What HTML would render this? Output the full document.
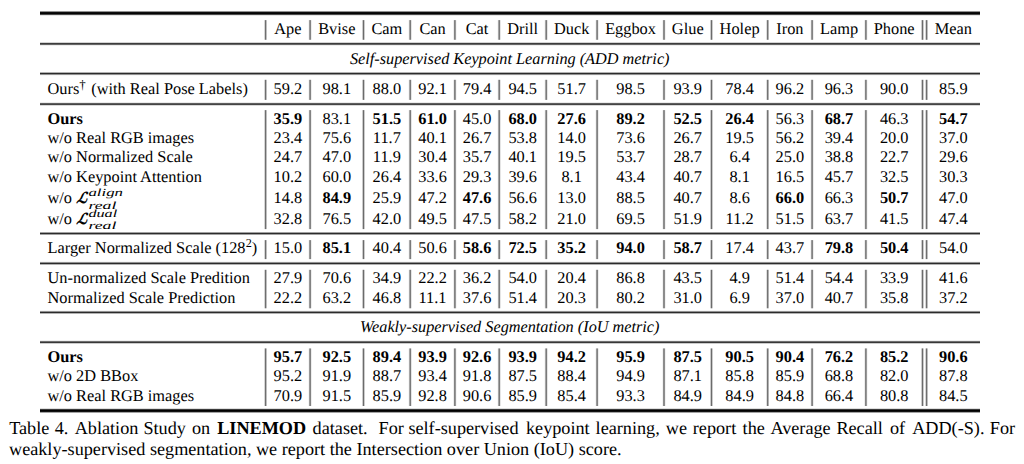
<!DOCTYPE html>
<html><head><meta charset="utf-8"><title>Table 4. Ablation Study on LINEMOD</title>
<style>
html,body{margin:0;padding:0;background:#fff;}
body{width:1024px;height:464px;overflow:hidden;position:relative;}
svg{position:absolute;left:0;top:0;}
svg text{text-rendering:geometricPrecision;font-family:"Liberation Serif","Times New Roman",serif;fill:#000;}
</style></head><body>
<svg width="1024" height="464" viewBox="0 0 1024 464">
<g fill="#000" shape-rendering="crispEdges">
<rect x="39.5" y="11" width="940.5" height="1" fill-opacity="0.43"/>
<rect x="39.5" y="12" width="940.5" height="1" fill-opacity="0.95"/>
<rect x="39.5" y="13" width="940.5" height="1" fill-opacity="0.99"/>
<rect x="39.5" y="14" width="940.5" height="1" fill-opacity="0.71"/>
<rect x="39.5" y="15" width="940.5" height="1" fill-opacity="0.1"/>
<rect x="39.5" y="42" width="940.5" height="1" fill-opacity="0.17"/>
<rect x="39.5" y="43" width="940.5" height="1" fill-opacity="0.76"/>
<rect x="39.5" y="44" width="940.5" height="1" fill-opacity="0.6"/>
<rect x="39.5" y="45" width="940.5" height="1" fill-opacity="0.07"/>
<rect x="39.5" y="72" width="940.5" height="1" fill-opacity="0.3"/>
<rect x="39.5" y="73" width="940.5" height="1" fill-opacity="0.83"/>
<rect x="39.5" y="74" width="940.5" height="1" fill-opacity="0.43"/>
<rect x="39.5" y="75" width="940.5" height="1" fill-opacity="0.03"/>
<rect x="39.5" y="102" width="940.5" height="1" fill-opacity="0.08"/>
<rect x="39.5" y="103" width="940.5" height="1" fill-opacity="0.63"/>
<rect x="39.5" y="104" width="940.5" height="1" fill-opacity="0.73"/>
<rect x="39.5" y="105" width="940.5" height="1" fill-opacity="0.15"/>
<rect x="39.5" y="232" width="940.5" height="1" fill-opacity="0.37"/>
<rect x="39.5" y="233" width="940.5" height="1" fill-opacity="0.83"/>
<rect x="39.5" y="234" width="940.5" height="1" fill-opacity="0.37"/>
<rect x="39.5" y="261" width="940.5" height="1" fill-opacity="0.03"/>
<rect x="39.5" y="262" width="940.5" height="1" fill-opacity="0.43"/>
<rect x="39.5" y="263" width="940.5" height="1" fill-opacity="0.83"/>
<rect x="39.5" y="264" width="940.5" height="1" fill-opacity="0.3"/>
<rect x="39.5" y="310" width="940.5" height="1" fill-opacity="0.03"/>
<rect x="39.5" y="311" width="940.5" height="1" fill-opacity="0.43"/>
<rect x="39.5" y="312" width="940.5" height="1" fill-opacity="0.83"/>
<rect x="39.5" y="313" width="940.5" height="1" fill-opacity="0.3"/>
<rect x="39.5" y="340" width="940.5" height="1" fill-opacity="0.06"/>
<rect x="39.5" y="341" width="940.5" height="1" fill-opacity="0.56"/>
<rect x="39.5" y="342" width="940.5" height="1" fill-opacity="0.78"/>
<rect x="39.5" y="343" width="940.5" height="1" fill-opacity="0.2"/>
<rect x="39.5" y="408" width="940.5" height="1" fill-opacity="0.13"/>
<rect x="39.5" y="409" width="940.5" height="1" fill-opacity="0.77"/>
<rect x="39.5" y="410" width="940.5" height="1" fill-opacity="1.0"/>
<rect x="39.5" y="411" width="940.5" height="1" fill-opacity="0.93"/>
<rect x="39.5" y="412" width="940.5" height="1" fill-opacity="0.36"/>
</g><g fill="#000">
<rect x="264" y="20.1" width="1" height="19.7" fill-opacity="0.16"/>
<rect x="265" y="20.1" width="1" height="19.7" fill-opacity="0.57"/>
<rect x="266" y="20.1" width="1" height="19.7" fill-opacity="0.25"/>
<rect x="308" y="20.1" width="1" height="19.7" fill-opacity="0.04"/>
<rect x="309" y="20.1" width="1" height="19.7" fill-opacity="0.4"/>
<rect x="310" y="20.1" width="1" height="19.7" fill-opacity="0.49"/>
<rect x="311" y="20.1" width="1" height="19.7" fill-opacity="0.07"/>
<rect x="362" y="20.1" width="1" height="19.7" fill-opacity="0.2"/>
<rect x="363" y="20.1" width="1" height="19.7" fill-opacity="0.58"/>
<rect x="364" y="20.1" width="1" height="19.7" fill-opacity="0.2"/>
<rect x="408" y="20.1" width="1" height="19.7" fill-opacity="0.03"/>
<rect x="409" y="20.1" width="1" height="19.7" fill-opacity="0.35"/>
<rect x="410" y="20.1" width="1" height="19.7" fill-opacity="0.52"/>
<rect x="411" y="20.1" width="1" height="19.7" fill-opacity="0.1"/>
<rect x="453" y="20.1" width="1" height="19.7" fill-opacity="0.07"/>
<rect x="454" y="20.1" width="1" height="19.7" fill-opacity="0.49"/>
<rect x="455" y="20.1" width="1" height="19.7" fill-opacity="0.4"/>
<rect x="456" y="20.1" width="1" height="19.7" fill-opacity="0.04"/>
<rect x="497" y="20.1" width="1" height="19.7" fill-opacity="0.03"/>
<rect x="498" y="20.1" width="1" height="19.7" fill-opacity="0.35"/>
<rect x="499" y="20.1" width="1" height="19.7" fill-opacity="0.52"/>
<rect x="500" y="20.1" width="1" height="19.7" fill-opacity="0.1"/>
<rect x="544" y="20.1" width="1" height="19.7" fill-opacity="0.03"/>
<rect x="545" y="20.1" width="1" height="19.7" fill-opacity="0.35"/>
<rect x="546" y="20.1" width="1" height="19.7" fill-opacity="0.52"/>
<rect x="547" y="20.1" width="1" height="19.7" fill-opacity="0.1"/>
<rect x="595" y="20.1" width="1" height="19.7" fill-opacity="0.04"/>
<rect x="596" y="20.1" width="1" height="19.7" fill-opacity="0.4"/>
<rect x="597" y="20.1" width="1" height="19.7" fill-opacity="0.49"/>
<rect x="598" y="20.1" width="1" height="19.7" fill-opacity="0.07"/>
<rect x="662" y="20.1" width="1" height="19.7" fill-opacity="0.05"/>
<rect x="663" y="20.1" width="1" height="19.7" fill-opacity="0.45"/>
<rect x="664" y="20.1" width="1" height="19.7" fill-opacity="0.45"/>
<rect x="665" y="20.1" width="1" height="19.7" fill-opacity="0.05"/>
<rect x="710" y="20.1" width="1" height="19.7" fill-opacity="0.2"/>
<rect x="711" y="20.1" width="1" height="19.7" fill-opacity="0.58"/>
<rect x="712" y="20.1" width="1" height="19.7" fill-opacity="0.2"/>
<rect x="766" y="20.1" width="1" height="19.7" fill-opacity="0.13"/>
<rect x="767" y="20.1" width="1" height="19.7" fill-opacity="0.55"/>
<rect x="768" y="20.1" width="1" height="19.7" fill-opacity="0.3"/>
<rect x="810" y="20.1" width="1" height="19.7" fill-opacity="0.04"/>
<rect x="811" y="20.1" width="1" height="19.7" fill-opacity="0.4"/>
<rect x="812" y="20.1" width="1" height="19.7" fill-opacity="0.49"/>
<rect x="813" y="20.1" width="1" height="19.7" fill-opacity="0.07"/>
<rect x="864" y="20.1" width="1" height="19.7" fill-opacity="0.07"/>
<rect x="865" y="20.1" width="1" height="19.7" fill-opacity="0.49"/>
<rect x="866" y="20.1" width="1" height="19.7" fill-opacity="0.4"/>
<rect x="867" y="20.1" width="1" height="19.7" fill-opacity="0.04"/>
<rect x="921" y="20.1" width="1" height="19.7" fill-opacity="0.2"/>
<rect x="922" y="20.1" width="1" height="19.7" fill-opacity="0.58"/>
<rect x="923" y="20.1" width="1" height="19.7" fill-opacity="0.2"/>
<rect x="925" y="20.1" width="1" height="19.7" fill-opacity="0.16"/>
<rect x="926" y="20.1" width="1" height="19.7" fill-opacity="0.57"/>
<rect x="927" y="20.1" width="1" height="19.7" fill-opacity="0.25"/>
<rect x="264" y="79.8" width="1" height="20.1" fill-opacity="0.16"/>
<rect x="265" y="79.8" width="1" height="20.1" fill-opacity="0.57"/>
<rect x="266" y="79.8" width="1" height="20.1" fill-opacity="0.25"/>
<rect x="308" y="79.8" width="1" height="20.1" fill-opacity="0.04"/>
<rect x="309" y="79.8" width="1" height="20.1" fill-opacity="0.4"/>
<rect x="310" y="79.8" width="1" height="20.1" fill-opacity="0.49"/>
<rect x="311" y="79.8" width="1" height="20.1" fill-opacity="0.07"/>
<rect x="362" y="79.8" width="1" height="20.1" fill-opacity="0.2"/>
<rect x="363" y="79.8" width="1" height="20.1" fill-opacity="0.58"/>
<rect x="364" y="79.8" width="1" height="20.1" fill-opacity="0.2"/>
<rect x="408" y="79.8" width="1" height="20.1" fill-opacity="0.03"/>
<rect x="409" y="79.8" width="1" height="20.1" fill-opacity="0.35"/>
<rect x="410" y="79.8" width="1" height="20.1" fill-opacity="0.52"/>
<rect x="411" y="79.8" width="1" height="20.1" fill-opacity="0.1"/>
<rect x="453" y="79.8" width="1" height="20.1" fill-opacity="0.07"/>
<rect x="454" y="79.8" width="1" height="20.1" fill-opacity="0.49"/>
<rect x="455" y="79.8" width="1" height="20.1" fill-opacity="0.4"/>
<rect x="456" y="79.8" width="1" height="20.1" fill-opacity="0.04"/>
<rect x="497" y="79.8" width="1" height="20.1" fill-opacity="0.03"/>
<rect x="498" y="79.8" width="1" height="20.1" fill-opacity="0.35"/>
<rect x="499" y="79.8" width="1" height="20.1" fill-opacity="0.52"/>
<rect x="500" y="79.8" width="1" height="20.1" fill-opacity="0.1"/>
<rect x="544" y="79.8" width="1" height="20.1" fill-opacity="0.03"/>
<rect x="545" y="79.8" width="1" height="20.1" fill-opacity="0.35"/>
<rect x="546" y="79.8" width="1" height="20.1" fill-opacity="0.52"/>
<rect x="547" y="79.8" width="1" height="20.1" fill-opacity="0.1"/>
<rect x="595" y="79.8" width="1" height="20.1" fill-opacity="0.04"/>
<rect x="596" y="79.8" width="1" height="20.1" fill-opacity="0.4"/>
<rect x="597" y="79.8" width="1" height="20.1" fill-opacity="0.49"/>
<rect x="598" y="79.8" width="1" height="20.1" fill-opacity="0.07"/>
<rect x="662" y="79.8" width="1" height="20.1" fill-opacity="0.05"/>
<rect x="663" y="79.8" width="1" height="20.1" fill-opacity="0.45"/>
<rect x="664" y="79.8" width="1" height="20.1" fill-opacity="0.45"/>
<rect x="665" y="79.8" width="1" height="20.1" fill-opacity="0.05"/>
<rect x="710" y="79.8" width="1" height="20.1" fill-opacity="0.2"/>
<rect x="711" y="79.8" width="1" height="20.1" fill-opacity="0.58"/>
<rect x="712" y="79.8" width="1" height="20.1" fill-opacity="0.2"/>
<rect x="766" y="79.8" width="1" height="20.1" fill-opacity="0.13"/>
<rect x="767" y="79.8" width="1" height="20.1" fill-opacity="0.55"/>
<rect x="768" y="79.8" width="1" height="20.1" fill-opacity="0.3"/>
<rect x="810" y="79.8" width="1" height="20.1" fill-opacity="0.04"/>
<rect x="811" y="79.8" width="1" height="20.1" fill-opacity="0.4"/>
<rect x="812" y="79.8" width="1" height="20.1" fill-opacity="0.49"/>
<rect x="813" y="79.8" width="1" height="20.1" fill-opacity="0.07"/>
<rect x="864" y="79.8" width="1" height="20.1" fill-opacity="0.07"/>
<rect x="865" y="79.8" width="1" height="20.1" fill-opacity="0.49"/>
<rect x="866" y="79.8" width="1" height="20.1" fill-opacity="0.4"/>
<rect x="867" y="79.8" width="1" height="20.1" fill-opacity="0.04"/>
<rect x="921" y="79.8" width="1" height="20.1" fill-opacity="0.2"/>
<rect x="922" y="79.8" width="1" height="20.1" fill-opacity="0.58"/>
<rect x="923" y="79.8" width="1" height="20.1" fill-opacity="0.2"/>
<rect x="925" y="79.8" width="1" height="20.1" fill-opacity="0.16"/>
<rect x="926" y="79.8" width="1" height="20.1" fill-opacity="0.57"/>
<rect x="927" y="79.8" width="1" height="20.1" fill-opacity="0.25"/>
<rect x="264" y="110.1" width="1" height="119.0" fill-opacity="0.16"/>
<rect x="265" y="110.1" width="1" height="119.0" fill-opacity="0.57"/>
<rect x="266" y="110.1" width="1" height="119.0" fill-opacity="0.25"/>
<rect x="308" y="110.1" width="1" height="119.0" fill-opacity="0.04"/>
<rect x="309" y="110.1" width="1" height="119.0" fill-opacity="0.4"/>
<rect x="310" y="110.1" width="1" height="119.0" fill-opacity="0.49"/>
<rect x="311" y="110.1" width="1" height="119.0" fill-opacity="0.07"/>
<rect x="362" y="110.1" width="1" height="119.0" fill-opacity="0.2"/>
<rect x="363" y="110.1" width="1" height="119.0" fill-opacity="0.58"/>
<rect x="364" y="110.1" width="1" height="119.0" fill-opacity="0.2"/>
<rect x="408" y="110.1" width="1" height="119.0" fill-opacity="0.03"/>
<rect x="409" y="110.1" width="1" height="119.0" fill-opacity="0.35"/>
<rect x="410" y="110.1" width="1" height="119.0" fill-opacity="0.52"/>
<rect x="411" y="110.1" width="1" height="119.0" fill-opacity="0.1"/>
<rect x="453" y="110.1" width="1" height="119.0" fill-opacity="0.07"/>
<rect x="454" y="110.1" width="1" height="119.0" fill-opacity="0.49"/>
<rect x="455" y="110.1" width="1" height="119.0" fill-opacity="0.4"/>
<rect x="456" y="110.1" width="1" height="119.0" fill-opacity="0.04"/>
<rect x="497" y="110.1" width="1" height="119.0" fill-opacity="0.03"/>
<rect x="498" y="110.1" width="1" height="119.0" fill-opacity="0.35"/>
<rect x="499" y="110.1" width="1" height="119.0" fill-opacity="0.52"/>
<rect x="500" y="110.1" width="1" height="119.0" fill-opacity="0.1"/>
<rect x="544" y="110.1" width="1" height="119.0" fill-opacity="0.03"/>
<rect x="545" y="110.1" width="1" height="119.0" fill-opacity="0.35"/>
<rect x="546" y="110.1" width="1" height="119.0" fill-opacity="0.52"/>
<rect x="547" y="110.1" width="1" height="119.0" fill-opacity="0.1"/>
<rect x="595" y="110.1" width="1" height="119.0" fill-opacity="0.04"/>
<rect x="596" y="110.1" width="1" height="119.0" fill-opacity="0.4"/>
<rect x="597" y="110.1" width="1" height="119.0" fill-opacity="0.49"/>
<rect x="598" y="110.1" width="1" height="119.0" fill-opacity="0.07"/>
<rect x="662" y="110.1" width="1" height="119.0" fill-opacity="0.05"/>
<rect x="663" y="110.1" width="1" height="119.0" fill-opacity="0.45"/>
<rect x="664" y="110.1" width="1" height="119.0" fill-opacity="0.45"/>
<rect x="665" y="110.1" width="1" height="119.0" fill-opacity="0.05"/>
<rect x="710" y="110.1" width="1" height="119.0" fill-opacity="0.2"/>
<rect x="711" y="110.1" width="1" height="119.0" fill-opacity="0.58"/>
<rect x="712" y="110.1" width="1" height="119.0" fill-opacity="0.2"/>
<rect x="766" y="110.1" width="1" height="119.0" fill-opacity="0.13"/>
<rect x="767" y="110.1" width="1" height="119.0" fill-opacity="0.55"/>
<rect x="768" y="110.1" width="1" height="119.0" fill-opacity="0.3"/>
<rect x="810" y="110.1" width="1" height="119.0" fill-opacity="0.04"/>
<rect x="811" y="110.1" width="1" height="119.0" fill-opacity="0.4"/>
<rect x="812" y="110.1" width="1" height="119.0" fill-opacity="0.49"/>
<rect x="813" y="110.1" width="1" height="119.0" fill-opacity="0.07"/>
<rect x="864" y="110.1" width="1" height="119.0" fill-opacity="0.07"/>
<rect x="865" y="110.1" width="1" height="119.0" fill-opacity="0.49"/>
<rect x="866" y="110.1" width="1" height="119.0" fill-opacity="0.4"/>
<rect x="867" y="110.1" width="1" height="119.0" fill-opacity="0.04"/>
<rect x="921" y="110.1" width="1" height="119.0" fill-opacity="0.2"/>
<rect x="922" y="110.1" width="1" height="119.0" fill-opacity="0.58"/>
<rect x="923" y="110.1" width="1" height="119.0" fill-opacity="0.2"/>
<rect x="925" y="110.1" width="1" height="119.0" fill-opacity="0.16"/>
<rect x="926" y="110.1" width="1" height="119.0" fill-opacity="0.57"/>
<rect x="927" y="110.1" width="1" height="119.0" fill-opacity="0.25"/>
<rect x="264" y="240.1" width="1" height="19.0" fill-opacity="0.16"/>
<rect x="265" y="240.1" width="1" height="19.0" fill-opacity="0.57"/>
<rect x="266" y="240.1" width="1" height="19.0" fill-opacity="0.25"/>
<rect x="308" y="240.1" width="1" height="19.0" fill-opacity="0.04"/>
<rect x="309" y="240.1" width="1" height="19.0" fill-opacity="0.4"/>
<rect x="310" y="240.1" width="1" height="19.0" fill-opacity="0.49"/>
<rect x="311" y="240.1" width="1" height="19.0" fill-opacity="0.07"/>
<rect x="362" y="240.1" width="1" height="19.0" fill-opacity="0.2"/>
<rect x="363" y="240.1" width="1" height="19.0" fill-opacity="0.58"/>
<rect x="364" y="240.1" width="1" height="19.0" fill-opacity="0.2"/>
<rect x="408" y="240.1" width="1" height="19.0" fill-opacity="0.03"/>
<rect x="409" y="240.1" width="1" height="19.0" fill-opacity="0.35"/>
<rect x="410" y="240.1" width="1" height="19.0" fill-opacity="0.52"/>
<rect x="411" y="240.1" width="1" height="19.0" fill-opacity="0.1"/>
<rect x="453" y="240.1" width="1" height="19.0" fill-opacity="0.07"/>
<rect x="454" y="240.1" width="1" height="19.0" fill-opacity="0.49"/>
<rect x="455" y="240.1" width="1" height="19.0" fill-opacity="0.4"/>
<rect x="456" y="240.1" width="1" height="19.0" fill-opacity="0.04"/>
<rect x="497" y="240.1" width="1" height="19.0" fill-opacity="0.03"/>
<rect x="498" y="240.1" width="1" height="19.0" fill-opacity="0.35"/>
<rect x="499" y="240.1" width="1" height="19.0" fill-opacity="0.52"/>
<rect x="500" y="240.1" width="1" height="19.0" fill-opacity="0.1"/>
<rect x="544" y="240.1" width="1" height="19.0" fill-opacity="0.03"/>
<rect x="545" y="240.1" width="1" height="19.0" fill-opacity="0.35"/>
<rect x="546" y="240.1" width="1" height="19.0" fill-opacity="0.52"/>
<rect x="547" y="240.1" width="1" height="19.0" fill-opacity="0.1"/>
<rect x="595" y="240.1" width="1" height="19.0" fill-opacity="0.04"/>
<rect x="596" y="240.1" width="1" height="19.0" fill-opacity="0.4"/>
<rect x="597" y="240.1" width="1" height="19.0" fill-opacity="0.49"/>
<rect x="598" y="240.1" width="1" height="19.0" fill-opacity="0.07"/>
<rect x="662" y="240.1" width="1" height="19.0" fill-opacity="0.05"/>
<rect x="663" y="240.1" width="1" height="19.0" fill-opacity="0.45"/>
<rect x="664" y="240.1" width="1" height="19.0" fill-opacity="0.45"/>
<rect x="665" y="240.1" width="1" height="19.0" fill-opacity="0.05"/>
<rect x="710" y="240.1" width="1" height="19.0" fill-opacity="0.2"/>
<rect x="711" y="240.1" width="1" height="19.0" fill-opacity="0.58"/>
<rect x="712" y="240.1" width="1" height="19.0" fill-opacity="0.2"/>
<rect x="766" y="240.1" width="1" height="19.0" fill-opacity="0.13"/>
<rect x="767" y="240.1" width="1" height="19.0" fill-opacity="0.55"/>
<rect x="768" y="240.1" width="1" height="19.0" fill-opacity="0.3"/>
<rect x="810" y="240.1" width="1" height="19.0" fill-opacity="0.04"/>
<rect x="811" y="240.1" width="1" height="19.0" fill-opacity="0.4"/>
<rect x="812" y="240.1" width="1" height="19.0" fill-opacity="0.49"/>
<rect x="813" y="240.1" width="1" height="19.0" fill-opacity="0.07"/>
<rect x="864" y="240.1" width="1" height="19.0" fill-opacity="0.07"/>
<rect x="865" y="240.1" width="1" height="19.0" fill-opacity="0.49"/>
<rect x="866" y="240.1" width="1" height="19.0" fill-opacity="0.4"/>
<rect x="867" y="240.1" width="1" height="19.0" fill-opacity="0.04"/>
<rect x="921" y="240.1" width="1" height="19.0" fill-opacity="0.2"/>
<rect x="922" y="240.1" width="1" height="19.0" fill-opacity="0.58"/>
<rect x="923" y="240.1" width="1" height="19.0" fill-opacity="0.2"/>
<rect x="925" y="240.1" width="1" height="19.0" fill-opacity="0.16"/>
<rect x="926" y="240.1" width="1" height="19.0" fill-opacity="0.57"/>
<rect x="927" y="240.1" width="1" height="19.0" fill-opacity="0.25"/>
<rect x="264" y="269.8" width="1" height="38.5" fill-opacity="0.16"/>
<rect x="265" y="269.8" width="1" height="38.5" fill-opacity="0.57"/>
<rect x="266" y="269.8" width="1" height="38.5" fill-opacity="0.25"/>
<rect x="308" y="269.8" width="1" height="38.5" fill-opacity="0.04"/>
<rect x="309" y="269.8" width="1" height="38.5" fill-opacity="0.4"/>
<rect x="310" y="269.8" width="1" height="38.5" fill-opacity="0.49"/>
<rect x="311" y="269.8" width="1" height="38.5" fill-opacity="0.07"/>
<rect x="362" y="269.8" width="1" height="38.5" fill-opacity="0.2"/>
<rect x="363" y="269.8" width="1" height="38.5" fill-opacity="0.58"/>
<rect x="364" y="269.8" width="1" height="38.5" fill-opacity="0.2"/>
<rect x="408" y="269.8" width="1" height="38.5" fill-opacity="0.03"/>
<rect x="409" y="269.8" width="1" height="38.5" fill-opacity="0.35"/>
<rect x="410" y="269.8" width="1" height="38.5" fill-opacity="0.52"/>
<rect x="411" y="269.8" width="1" height="38.5" fill-opacity="0.1"/>
<rect x="453" y="269.8" width="1" height="38.5" fill-opacity="0.07"/>
<rect x="454" y="269.8" width="1" height="38.5" fill-opacity="0.49"/>
<rect x="455" y="269.8" width="1" height="38.5" fill-opacity="0.4"/>
<rect x="456" y="269.8" width="1" height="38.5" fill-opacity="0.04"/>
<rect x="497" y="269.8" width="1" height="38.5" fill-opacity="0.03"/>
<rect x="498" y="269.8" width="1" height="38.5" fill-opacity="0.35"/>
<rect x="499" y="269.8" width="1" height="38.5" fill-opacity="0.52"/>
<rect x="500" y="269.8" width="1" height="38.5" fill-opacity="0.1"/>
<rect x="544" y="269.8" width="1" height="38.5" fill-opacity="0.03"/>
<rect x="545" y="269.8" width="1" height="38.5" fill-opacity="0.35"/>
<rect x="546" y="269.8" width="1" height="38.5" fill-opacity="0.52"/>
<rect x="547" y="269.8" width="1" height="38.5" fill-opacity="0.1"/>
<rect x="595" y="269.8" width="1" height="38.5" fill-opacity="0.04"/>
<rect x="596" y="269.8" width="1" height="38.5" fill-opacity="0.4"/>
<rect x="597" y="269.8" width="1" height="38.5" fill-opacity="0.49"/>
<rect x="598" y="269.8" width="1" height="38.5" fill-opacity="0.07"/>
<rect x="662" y="269.8" width="1" height="38.5" fill-opacity="0.05"/>
<rect x="663" y="269.8" width="1" height="38.5" fill-opacity="0.45"/>
<rect x="664" y="269.8" width="1" height="38.5" fill-opacity="0.45"/>
<rect x="665" y="269.8" width="1" height="38.5" fill-opacity="0.05"/>
<rect x="710" y="269.8" width="1" height="38.5" fill-opacity="0.2"/>
<rect x="711" y="269.8" width="1" height="38.5" fill-opacity="0.58"/>
<rect x="712" y="269.8" width="1" height="38.5" fill-opacity="0.2"/>
<rect x="766" y="269.8" width="1" height="38.5" fill-opacity="0.13"/>
<rect x="767" y="269.8" width="1" height="38.5" fill-opacity="0.55"/>
<rect x="768" y="269.8" width="1" height="38.5" fill-opacity="0.3"/>
<rect x="810" y="269.8" width="1" height="38.5" fill-opacity="0.04"/>
<rect x="811" y="269.8" width="1" height="38.5" fill-opacity="0.4"/>
<rect x="812" y="269.8" width="1" height="38.5" fill-opacity="0.49"/>
<rect x="813" y="269.8" width="1" height="38.5" fill-opacity="0.07"/>
<rect x="864" y="269.8" width="1" height="38.5" fill-opacity="0.07"/>
<rect x="865" y="269.8" width="1" height="38.5" fill-opacity="0.49"/>
<rect x="866" y="269.8" width="1" height="38.5" fill-opacity="0.4"/>
<rect x="867" y="269.8" width="1" height="38.5" fill-opacity="0.04"/>
<rect x="921" y="269.8" width="1" height="38.5" fill-opacity="0.2"/>
<rect x="922" y="269.8" width="1" height="38.5" fill-opacity="0.58"/>
<rect x="923" y="269.8" width="1" height="38.5" fill-opacity="0.2"/>
<rect x="925" y="269.8" width="1" height="38.5" fill-opacity="0.16"/>
<rect x="926" y="269.8" width="1" height="38.5" fill-opacity="0.57"/>
<rect x="927" y="269.8" width="1" height="38.5" fill-opacity="0.25"/>
<rect x="264" y="348.4" width="1" height="57.6" fill-opacity="0.16"/>
<rect x="265" y="348.4" width="1" height="57.6" fill-opacity="0.57"/>
<rect x="266" y="348.4" width="1" height="57.6" fill-opacity="0.25"/>
<rect x="308" y="348.4" width="1" height="57.6" fill-opacity="0.04"/>
<rect x="309" y="348.4" width="1" height="57.6" fill-opacity="0.4"/>
<rect x="310" y="348.4" width="1" height="57.6" fill-opacity="0.49"/>
<rect x="311" y="348.4" width="1" height="57.6" fill-opacity="0.07"/>
<rect x="362" y="348.4" width="1" height="57.6" fill-opacity="0.2"/>
<rect x="363" y="348.4" width="1" height="57.6" fill-opacity="0.58"/>
<rect x="364" y="348.4" width="1" height="57.6" fill-opacity="0.2"/>
<rect x="408" y="348.4" width="1" height="57.6" fill-opacity="0.03"/>
<rect x="409" y="348.4" width="1" height="57.6" fill-opacity="0.35"/>
<rect x="410" y="348.4" width="1" height="57.6" fill-opacity="0.52"/>
<rect x="411" y="348.4" width="1" height="57.6" fill-opacity="0.1"/>
<rect x="453" y="348.4" width="1" height="57.6" fill-opacity="0.07"/>
<rect x="454" y="348.4" width="1" height="57.6" fill-opacity="0.49"/>
<rect x="455" y="348.4" width="1" height="57.6" fill-opacity="0.4"/>
<rect x="456" y="348.4" width="1" height="57.6" fill-opacity="0.04"/>
<rect x="497" y="348.4" width="1" height="57.6" fill-opacity="0.03"/>
<rect x="498" y="348.4" width="1" height="57.6" fill-opacity="0.35"/>
<rect x="499" y="348.4" width="1" height="57.6" fill-opacity="0.52"/>
<rect x="500" y="348.4" width="1" height="57.6" fill-opacity="0.1"/>
<rect x="544" y="348.4" width="1" height="57.6" fill-opacity="0.03"/>
<rect x="545" y="348.4" width="1" height="57.6" fill-opacity="0.35"/>
<rect x="546" y="348.4" width="1" height="57.6" fill-opacity="0.52"/>
<rect x="547" y="348.4" width="1" height="57.6" fill-opacity="0.1"/>
<rect x="595" y="348.4" width="1" height="57.6" fill-opacity="0.04"/>
<rect x="596" y="348.4" width="1" height="57.6" fill-opacity="0.4"/>
<rect x="597" y="348.4" width="1" height="57.6" fill-opacity="0.49"/>
<rect x="598" y="348.4" width="1" height="57.6" fill-opacity="0.07"/>
<rect x="662" y="348.4" width="1" height="57.6" fill-opacity="0.05"/>
<rect x="663" y="348.4" width="1" height="57.6" fill-opacity="0.45"/>
<rect x="664" y="348.4" width="1" height="57.6" fill-opacity="0.45"/>
<rect x="665" y="348.4" width="1" height="57.6" fill-opacity="0.05"/>
<rect x="710" y="348.4" width="1" height="57.6" fill-opacity="0.2"/>
<rect x="711" y="348.4" width="1" height="57.6" fill-opacity="0.58"/>
<rect x="712" y="348.4" width="1" height="57.6" fill-opacity="0.2"/>
<rect x="766" y="348.4" width="1" height="57.6" fill-opacity="0.13"/>
<rect x="767" y="348.4" width="1" height="57.6" fill-opacity="0.55"/>
<rect x="768" y="348.4" width="1" height="57.6" fill-opacity="0.3"/>
<rect x="810" y="348.4" width="1" height="57.6" fill-opacity="0.04"/>
<rect x="811" y="348.4" width="1" height="57.6" fill-opacity="0.4"/>
<rect x="812" y="348.4" width="1" height="57.6" fill-opacity="0.49"/>
<rect x="813" y="348.4" width="1" height="57.6" fill-opacity="0.07"/>
<rect x="864" y="348.4" width="1" height="57.6" fill-opacity="0.07"/>
<rect x="865" y="348.4" width="1" height="57.6" fill-opacity="0.49"/>
<rect x="866" y="348.4" width="1" height="57.6" fill-opacity="0.4"/>
<rect x="867" y="348.4" width="1" height="57.6" fill-opacity="0.04"/>
<rect x="921" y="348.4" width="1" height="57.6" fill-opacity="0.2"/>
<rect x="922" y="348.4" width="1" height="57.6" fill-opacity="0.58"/>
<rect x="923" y="348.4" width="1" height="57.6" fill-opacity="0.2"/>
<rect x="925" y="348.4" width="1" height="57.6" fill-opacity="0.16"/>
<rect x="926" y="348.4" width="1" height="57.6" fill-opacity="0.57"/>
<rect x="927" y="348.4" width="1" height="57.6" fill-opacity="0.25"/>
</g>
<g font-size="16.35" text-anchor="middle">
<text x="287.85" y="34.0">Ape</text>
<text x="336.80" y="34.0">Bvise</text>
<text x="386.85" y="34.0">Cam</text>
<text x="432.55" y="34.0">Can</text>
<text x="477.05" y="34.0">Cat</text>
<text x="522.70" y="34.0">Drill</text>
<text x="571.65" y="34.0">Duck</text>
<text x="630.55" y="34.0">Eggbox</text>
<text x="687.75" y="34.0">Glue</text>
<text x="739.60" y="34.0">Holep</text>
<text x="789.90" y="34.0">Iron</text>
<text x="839.00" y="34.0">Lamp</text>
<text x="894.20" y="34.0">Phone</text>
<text x="953.30" y="34.0">Mean</text>
</g>
<text x="509.75" y="63.5" font-size="16.25" font-style="italic" text-anchor="middle">Self-supervised Keypoint Learning (ADD metric)</text>
<text x="509.75" y="332.3" font-size="16.25" font-style="italic" text-anchor="middle">Weakly-supervised Segmentation (IoU metric)</text>
<text x="47.5" y="93.8" font-size="16.35">Ours<tspan font-size="13" dy="-4.7">†</tspan><tspan dy="4.9" dx="1.4"> (with Real Pose Labels)</tspan></text>
<g font-size="16.35" text-anchor="middle">
<text x="287.85" y="93.8">59.2</text>
<text x="336.80" y="93.8">98.1</text>
<text x="386.85" y="93.8">88.0</text>
<text x="432.55" y="93.8">92.1</text>
<text x="477.05" y="93.8">79.4</text>
<text x="522.70" y="93.8">94.5</text>
<text x="571.65" y="93.8">51.7</text>
<text x="630.55" y="93.8">98.5</text>
<text x="687.75" y="93.8">93.9</text>
<text x="739.60" y="93.8">78.4</text>
<text x="789.90" y="93.8">96.2</text>
<text x="839.00" y="93.8">96.3</text>
<text x="894.20" y="93.8">90.0</text>
<text x="953.30" y="93.8">85.9</text>
</g>
<text x="47.5" y="123.7" font-size="16.35"><tspan font-weight="bold">Ours</tspan></text>
<g font-size="16.35" text-anchor="middle">
<text x="287.85" y="123.7" font-weight="bold">35.9</text>
<text x="336.80" y="123.7">83.1</text>
<text x="386.85" y="123.7" font-weight="bold">51.5</text>
<text x="432.55" y="123.7" font-weight="bold">61.0</text>
<text x="477.05" y="123.7">45.0</text>
<text x="522.70" y="123.7" font-weight="bold">68.0</text>
<text x="571.65" y="123.7" font-weight="bold">27.6</text>
<text x="630.55" y="123.7" font-weight="bold">89.2</text>
<text x="687.75" y="123.7" font-weight="bold">52.5</text>
<text x="739.60" y="123.7" font-weight="bold">26.4</text>
<text x="789.90" y="123.7">56.3</text>
<text x="839.00" y="123.7" font-weight="bold">68.7</text>
<text x="894.20" y="123.7">46.3</text>
<text x="953.30" y="123.7" font-weight="bold">54.7</text>
</g>
<text x="47.5" y="143.3" font-size="16.35">w/o Real RGB images</text>
<g font-size="16.35" text-anchor="middle">
<text x="287.85" y="143.3">23.4</text>
<text x="336.80" y="143.3">75.6</text>
<text x="386.85" y="143.3">11.7</text>
<text x="432.55" y="143.3">40.1</text>
<text x="477.05" y="143.3">26.7</text>
<text x="522.70" y="143.3">53.8</text>
<text x="571.65" y="143.3">14.0</text>
<text x="630.55" y="143.3">73.6</text>
<text x="687.75" y="143.3">26.7</text>
<text x="739.60" y="143.3">19.5</text>
<text x="789.90" y="143.3">56.2</text>
<text x="839.00" y="143.3">39.4</text>
<text x="894.20" y="143.3">20.0</text>
<text x="953.30" y="143.3">37.0</text>
</g>
<text x="47.5" y="162.3" font-size="16.35">w/o Normalized Scale</text>
<g font-size="16.35" text-anchor="middle">
<text x="287.85" y="162.3">24.7</text>
<text x="336.80" y="162.3">47.0</text>
<text x="386.85" y="162.3">11.9</text>
<text x="432.55" y="162.3">30.4</text>
<text x="477.05" y="162.3">35.7</text>
<text x="522.70" y="162.3">40.1</text>
<text x="571.65" y="162.3">19.5</text>
<text x="630.55" y="162.3">53.7</text>
<text x="687.75" y="162.3">28.7</text>
<text x="739.60" y="162.3">6.4</text>
<text x="789.90" y="162.3">25.0</text>
<text x="839.00" y="162.3">38.8</text>
<text x="894.20" y="162.3">22.7</text>
<text x="953.30" y="162.3">29.6</text>
</g>
<text x="47.5" y="181.5" font-size="16.35">w/o Keypoint Attention</text>
<g font-size="16.35" text-anchor="middle">
<text x="287.85" y="181.5">10.2</text>
<text x="336.80" y="181.5">60.0</text>
<text x="386.85" y="181.5">26.4</text>
<text x="432.55" y="181.5">33.6</text>
<text x="477.05" y="181.5">29.3</text>
<text x="522.70" y="181.5">39.6</text>
<text x="571.65" y="181.5">8.1</text>
<text x="630.55" y="181.5">43.4</text>
<text x="687.75" y="181.5">40.7</text>
<text x="739.60" y="181.5">8.1</text>
<text x="789.90" y="181.5">16.5</text>
<text x="839.00" y="181.5">45.7</text>
<text x="894.20" y="181.5">32.5</text>
<text x="953.30" y="181.5">30.3</text>
</g>
<text x="47.5" y="203.3" font-size="16.35">w/o <tspan font-family="Latin Modern Math, STIX Two Math, DejaVu Serif, DejaVu Sans, serif" font-weight="bold">ℒ</tspan></text>
<text x="88.4" y="196.1" font-size="11" font-style="italic" textLength="34.6" lengthAdjust="spacingAndGlyphs">align</text>
<text x="88.4" y="209.3" font-size="11" font-style="italic" textLength="28.0" lengthAdjust="spacingAndGlyphs">real</text>
<g font-size="16.35" text-anchor="middle">
<text x="287.85" y="203.3">14.8</text>
<text x="336.80" y="203.3" font-weight="bold">84.9</text>
<text x="386.85" y="203.3">25.9</text>
<text x="432.55" y="203.3">47.2</text>
<text x="477.05" y="203.3" font-weight="bold">47.6</text>
<text x="522.70" y="203.3">56.6</text>
<text x="571.65" y="203.3">13.0</text>
<text x="630.55" y="203.3">88.5</text>
<text x="687.75" y="203.3">40.7</text>
<text x="739.60" y="203.3">8.6</text>
<text x="789.90" y="203.3" font-weight="bold">66.0</text>
<text x="839.00" y="203.3">66.3</text>
<text x="894.20" y="203.3" font-weight="bold">50.7</text>
<text x="953.30" y="203.3">47.0</text>
</g>
<text x="47.5" y="223.8" font-size="16.35">w/o <tspan font-family="Latin Modern Math, STIX Two Math, DejaVu Serif, DejaVu Sans, serif" font-weight="bold">ℒ</tspan></text>
<text x="88.4" y="217.4" font-size="11" font-style="italic" textLength="28.8" lengthAdjust="spacingAndGlyphs">dual</text>
<text x="88.4" y="228.9" font-size="11" font-style="italic" textLength="28.0" lengthAdjust="spacingAndGlyphs">real</text>
<g font-size="16.35" text-anchor="middle">
<text x="287.85" y="223.8">32.8</text>
<text x="336.80" y="223.8">76.5</text>
<text x="386.85" y="223.8">42.0</text>
<text x="432.55" y="223.8">49.5</text>
<text x="477.05" y="223.8">47.5</text>
<text x="522.70" y="223.8">58.2</text>
<text x="571.65" y="223.8">21.0</text>
<text x="630.55" y="223.8">69.5</text>
<text x="687.75" y="223.8">51.9</text>
<text x="739.60" y="223.8">11.2</text>
<text x="789.90" y="223.8">51.5</text>
<text x="839.00" y="223.8">63.7</text>
<text x="894.20" y="223.8">41.5</text>
<text x="953.30" y="223.8">47.4</text>
</g>
<text x="47.5" y="253.2" font-size="16.35">Larger Normalized Scale (128<tspan font-size="12.2" dy="-6.0" dx="0.2">2</tspan><tspan dy="6.0">)</tspan></text>
<g font-size="16.35" text-anchor="middle">
<text x="287.85" y="253.2">15.0</text>
<text x="336.80" y="253.2" font-weight="bold">85.1</text>
<text x="386.85" y="253.2">40.4</text>
<text x="432.55" y="253.2">50.6</text>
<text x="477.05" y="253.2" font-weight="bold">58.6</text>
<text x="522.70" y="253.2" font-weight="bold">72.5</text>
<text x="571.65" y="253.2" font-weight="bold">35.2</text>
<text x="630.55" y="253.2" font-weight="bold">94.0</text>
<text x="687.75" y="253.2" font-weight="bold">58.7</text>
<text x="739.60" y="253.2">17.4</text>
<text x="789.90" y="253.2">43.7</text>
<text x="839.00" y="253.2" font-weight="bold">79.8</text>
<text x="894.20" y="253.2" font-weight="bold">50.4</text>
<text x="953.30" y="253.2">54.0</text>
</g>
<text x="47.5" y="283.2" font-size="16.35">Un-normalized Scale Predition</text>
<g font-size="16.35" text-anchor="middle">
<text x="287.85" y="283.2">27.9</text>
<text x="336.80" y="283.2">70.6</text>
<text x="386.85" y="283.2">34.9</text>
<text x="432.55" y="283.2">22.2</text>
<text x="477.05" y="283.2">36.2</text>
<text x="522.70" y="283.2">54.0</text>
<text x="571.65" y="283.2">20.4</text>
<text x="630.55" y="283.2">86.8</text>
<text x="687.75" y="283.2">43.5</text>
<text x="739.60" y="283.2">4.9</text>
<text x="789.90" y="283.2">51.4</text>
<text x="839.00" y="283.2">54.4</text>
<text x="894.20" y="283.2">33.9</text>
<text x="953.30" y="283.2">41.6</text>
</g>
<text x="47.5" y="303.0" font-size="16.35">Normalized Scale Prediction</text>
<g font-size="16.35" text-anchor="middle">
<text x="287.85" y="303.0">22.2</text>
<text x="336.80" y="303.0">63.2</text>
<text x="386.85" y="303.0">46.8</text>
<text x="432.55" y="303.0">11.1</text>
<text x="477.05" y="303.0">37.6</text>
<text x="522.70" y="303.0">51.4</text>
<text x="571.65" y="303.0">20.3</text>
<text x="630.55" y="303.0">80.2</text>
<text x="687.75" y="303.0">31.0</text>
<text x="739.60" y="303.0">6.9</text>
<text x="789.90" y="303.0">37.0</text>
<text x="839.00" y="303.0">40.7</text>
<text x="894.20" y="303.0">35.8</text>
<text x="953.30" y="303.0">37.2</text>
</g>
<text x="47.5" y="361.8" font-size="16.35"><tspan font-weight="bold">Ours</tspan></text>
<g font-size="16.35" text-anchor="middle">
<text x="287.85" y="361.8" font-weight="bold">95.7</text>
<text x="336.80" y="361.8" font-weight="bold">92.5</text>
<text x="386.85" y="361.8" font-weight="bold">89.4</text>
<text x="432.55" y="361.8" font-weight="bold">93.9</text>
<text x="477.05" y="361.8" font-weight="bold">92.6</text>
<text x="522.70" y="361.8" font-weight="bold">93.9</text>
<text x="571.65" y="361.8" font-weight="bold">94.2</text>
<text x="630.55" y="361.8" font-weight="bold">95.9</text>
<text x="687.75" y="361.8" font-weight="bold">87.5</text>
<text x="739.60" y="361.8" font-weight="bold">90.5</text>
<text x="789.90" y="361.8" font-weight="bold">90.4</text>
<text x="839.00" y="361.8" font-weight="bold">76.2</text>
<text x="894.20" y="361.8" font-weight="bold">85.2</text>
<text x="953.30" y="361.8" font-weight="bold">90.6</text>
</g>
<text x="47.5" y="381.3" font-size="16.35">w/o 2D BBox</text>
<g font-size="16.35" text-anchor="middle">
<text x="287.85" y="381.3">95.2</text>
<text x="336.80" y="381.3">91.9</text>
<text x="386.85" y="381.3">88.7</text>
<text x="432.55" y="381.3">93.4</text>
<text x="477.05" y="381.3">91.8</text>
<text x="522.70" y="381.3">87.5</text>
<text x="571.65" y="381.3">88.4</text>
<text x="630.55" y="381.3">94.9</text>
<text x="687.75" y="381.3">87.1</text>
<text x="739.60" y="381.3">85.8</text>
<text x="789.90" y="381.3">85.9</text>
<text x="839.00" y="381.3">68.8</text>
<text x="894.20" y="381.3">82.0</text>
<text x="953.30" y="381.3">87.8</text>
</g>
<text x="47.5" y="400.8" font-size="16.35">w/o Real RGB images</text>
<g font-size="16.35" text-anchor="middle">
<text x="287.85" y="400.8">70.9</text>
<text x="336.80" y="400.8">91.5</text>
<text x="386.85" y="400.8">85.9</text>
<text x="432.55" y="400.8">92.8</text>
<text x="477.05" y="400.8">90.6</text>
<text x="522.70" y="400.8">85.9</text>
<text x="571.65" y="400.8">85.4</text>
<text x="630.55" y="400.8">93.3</text>
<text x="687.75" y="400.8">84.9</text>
<text x="739.60" y="400.8">84.9</text>
<text x="789.90" y="400.8">84.8</text>
<text x="839.00" y="400.8">66.4</text>
<text x="894.20" y="400.8">80.8</text>
<text x="953.30" y="400.8">84.5</text>
</g>
<text id="cap1" y="433.6" font-size="18.2"><tspan x="9.2">Table</tspan> <tspan x="54.7">4.</tspan> <tspan x="74.7">Ablation</tspan> <tspan x="143.4">Study</tspan> <tspan x="192.0">on</tspan> <tspan x="217.2"><tspan font-weight="bold">LINEMOD</tspan></tspan> <tspan x="312.6">dataset.</tspan> <tspan x="378.6">For</tspan> <tspan x="408.4">self-supervised</tspan> <tspan x="526.0">keypoint</tspan> <tspan x="595.6">learning,</tspan> <tspan x="665.8">we</tspan> <tspan x="692.8">report</tspan> <tspan x="742.6">the</tspan> <tspan x="770.4">Average</tspan> <tspan x="836.4">Recall</tspan> <tspan x="890.0">of</tspan> <tspan x="912.2">ADD(-S).</tspan> <tspan x="989.8">For</tspan></text>
<text id="cap2" x="9.0" y="454.7" font-size="18.2">weakly-supervised segmentation, we report the Intersection over Union (IoU) score.</text>
</svg>
</body></html>
